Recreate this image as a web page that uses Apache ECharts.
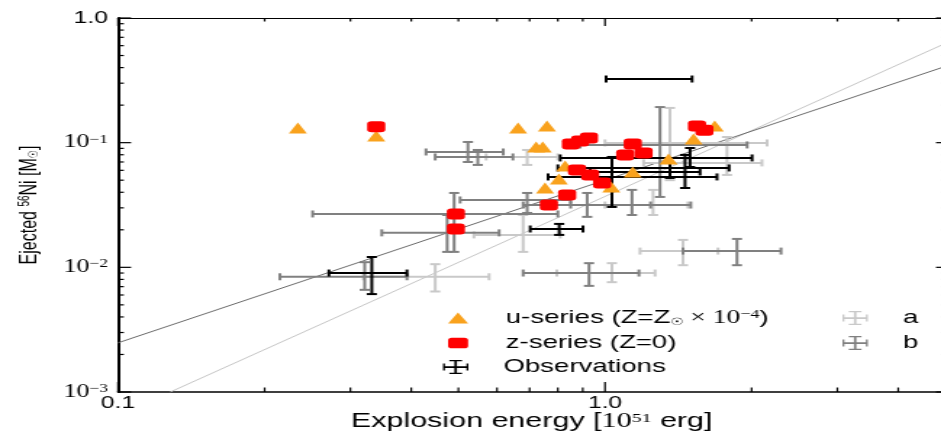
<!DOCTYPE html>
<html><head><meta charset="utf-8">
<script src="https://cdn.jsdelivr.net/npm/echarts@6/dist/echarts.min.js"></script>
<style>
html,body{margin:0;padding:0;background:#fff;overflow:hidden;width:941px;height:436px;}
#chart{width:652px;height:436px;transform:scaleX(1.45);transform-origin:0 0;}
</style></head><body><div id="chart"></div>
<script>
// ---- data (x = explosion energy [1e51 erg], y = ejected 56Ni [Msun]) ----
const uSeries = [[0.234,0.131],[0.339,0.113],[0.663,0.131],[0.760,0.136],[0.722,0.0924],[0.745,0.0924],[0.753,0.0433],[0.804,0.0512],[0.828,0.065],[1.03,0.044],[1.14,0.0582],[1.35,0.074],[1.52,0.107],[1.68,0.136]];
const zSeries = [[0.339,0.134],[0.494,0.0268],[0.494,0.0203],[0.851,0.0977],[0.889,0.103],[0.927,0.109],[1.14,0.0977],[1.10,0.0797],[1.20,0.0827],[0.876,0.0604],[0.932,0.0551],[0.986,0.0475],[0.836,0.0381],[0.767,0.0316],[1.545,0.136],[1.60,0.126]];
// [x, y, xLow, xHigh, yLow, yHigh]
const observations = [[0.332,0.0090,0.271,0.392,0.0061,0.0121],[0.805,0.0203,0.702,0.901,0.0182,0.0223],[1.255,0.324,1.005,1.509,0.324,0.324],[1.46,0.0627,0.800,1.798,0.0433,0.0797],[1.033,0.0531,0.764,1.698,0.0305,0.0768],[1.495,0.0754,0.809,2.004,0.0638,0.0906],[1.359,0.0582,0.932,1.567,0.0521,0.0688]];
const seriesA = [[0.448,0.0084,0.319,0.578,0.0064,0.0106],[1.033,0.0090,0.796,1.267,0.0076,0.0108],[1.446,0.0135,1.180,1.706,0.0104,0.0166],[0.679,0.0182,0.538,0.809,0.0133,0.0263],[1.359,0.0995,1.0,2.151,0.05,0.190],[1.78,0.0688,1.2,2.10,0.0551,0.111],[0.692,0.0768,0.57,0.80,0.0663,0.0874],[1.255,0.0316,1.0,1.48,0.0263,0.0418]];
const seriesB = [[0.523,0.0842,0.429,0.618,0.0700,0.1013],[0.548,0.0768,0.448,0.647,0.0663,0.0874],[0.490,0.0268,0.251,0.800,0.0133,0.0395],[0.474,0.0189,0.348,0.606,0.0133,0.0263],[0.321,0.0084,0.215,0.392,0.0066,0.0110],[0.927,0.0090,0.679,1.174,0.0071,0.0108],[1.866,0.0135,1.446,2.298,0.0104,0.0169],[1.297,0.0959,0.889,1.958,0.0367,0.193],[0.692,0.0347,0.504,0.850,0.0273,0.0395],[0.919,0.0316,0.679,1.24,0.0254,0.0395],[1.136,0.0316,0.85,1.5,0.0263,0.0418]];
const fitB = [[0.1,0.00248],[5,0.409]];
const fitA = [[0.128,0.001],[5,0.626]];
const xMajorTicks = [0.1, 1];
const xMinorTicks = [0.2,0.3,0.4,0.5,0.6,0.7,0.8,0.9,2,3,4];
const yMajorTicks = [0.001, 0.01, 0.1, 1];
const yMinorTicks = [0.002,0.003,0.004,0.005,0.006,0.007,0.008,0.009,0.02,0.03,0.04,0.05,0.06,0.07,0.08,0.09,0.2,0.3,0.4,0.5,0.6,0.7,0.8,0.9];
const xTickLabels = ['0.1', '1.0'];
const yTickLabels = [['10','−3'],['10','−2'],['10','−1'],['1.0','']];

const SANS = 'Liberation Sans', SERIF = 'Liberation Serif';
const ORANGE = '#F9A21D', RED = '#FF0000', GRAY_A = '#c9c9c9', GRAY_B = '#808080';

function matchIdx(v, arr){
  for (let i=0;i<arr.length;i++){ if (Math.abs(Math.log10(v)-Math.log10(arr[i]))<1e-6) return i; }
  return -1;
}

function errRender(color, lw, capX, capY){
  return function(params, api){
    const x=api.value(0), y=api.value(1);
    const c=api.coord([x,y]);
    const l=api.coord([api.value(2),y]), r=api.coord([api.value(3),y]);
    const b=api.coord([x,api.value(4)]), t=api.coord([x,api.value(5)]);
    const seg=(x1,y1,x2,y2)=>({type:'line',shape:{x1,y1,x2,y2},style:{stroke:color,lineWidth:lw,fill:null}});
    return {type:'group',children:[
      seg(l[0],c[1],r[0],c[1]),
      seg(c[0],b[1],c[0],t[1]),
      seg(l[0],c[1]-capY/2,l[0],c[1]+capY/2),
      seg(r[0],c[1]-capY/2,r[0],c[1]+capY/2),
      seg(c[0]-capX/2,t[1],c[0]+capX/2,t[1]),
      seg(c[0]-capX/2,b[1],c[0]+capX/2,b[1])
    ]};
  };
}

function tickSeries(values, axis, lenA, lenB){
  return {type:'custom', silent:true, clip:false, z:20, data: values.map(v=>[v]),
    renderItem(params, api){
      const cs=params.coordSys, v=api.value(0);
      const st={stroke:'#000',lineWidth:1.2};
      if (axis==='x'){
        const px=api.coord([v,0.01])[0];
        const yb=cs.y+cs.height, yt=cs.y;
        return {type:'group',children:[
          {type:'line',shape:{x1:px,y1:yb,x2:px,y2:yb-lenA},style:st},
          {type:'line',shape:{x1:px,y1:yt,x2:px,y2:yt+lenB},style:st}]};
      } else {
        const py=api.coord([1,v])[1];
        const xl=cs.x, xr=cs.x+cs.width;
        return {type:'group',children:[
          {type:'line',shape:{x1:xl,y1:py,x2:xl+lenA,y2:py},style:st},
          {type:'line',shape:{x1:xr,y1:py,x2:xr-lenB,y2:py},style:st}]};
      }
    }};
}

const ERR_ICON = 'path://M0,7h20v2h-20z M9,0h2v16h-2z M0,4h1.5v8h-1.5z M18.5,4h1.5v8h-1.5z M5,0h10v1.5h-10z M5,14.5h10v1.5h-10z';
const legendRich = {
  sp:{width:21}, sp2:{width:18},
  s:{fontFamily:SANS,fontSize:19,color:'#000'},
  d:{fontFamily:'DejaVu Sans',fontSize:10,color:'#000',verticalAlign:'bottom',lineHeight:19},
  m:{fontFamily:SERIF,fontSize:19,color:'#000'},
  p:{fontFamily:SERIF,fontSize:12.5,color:'#000',verticalAlign:'top',lineHeight:19}
};
function legendFor(name, icon, color, w, h, left, top, fmt){
  return {show:true, selectedMode:false, orient:'vertical', left, top, padding:0,
    itemWidth:w, itemHeight:h, itemGap:0,
    data:[{name, icon, itemStyle:{color, borderWidth:0}}],
    formatter: fmt,
    textStyle:{fontFamily:SANS,fontSize:19,color:'#000',rich:legendRich}};
}

const chart = echarts.init(document.getElementById('chart'), null, {renderer:'canvas'});
const option = {
  animation:false,
  backgroundColor:'#fff',
  grid:{left:81.4, right:0, top:18, bottom:44, containLabel:false, outerBoundsMode:'none'},
  xAxis:[{
    type:'log', logBase:10, min:0.1, max:5, position:'bottom',
    axisLine:{show:true,onZero:false,lineStyle:{color:'#000',width:1.5}},
    axisTick:{show:false}, splitLine:{show:false}, minorTick:{show:false},
    axisLabel:{margin:3, formatter:(v)=>{const i=matchIdx(v,xMajorTicks); return i<0?'':'{n|'+xTickLabels[i]+'}';},
      rich:{n:{fontFamily:SANS,fontSize:17,color:'#000'}}},
    name:'{s|Explosion energy [}{m|10}{p|51}{s| erg]}', nameLocation:'middle', nameGap:19, nameMoveOverlap:false,
    nameTextStyle:{rich:{
      s:{fontFamily:SANS,fontSize:21,color:'#000'},
      m:{fontFamily:SERIF,fontSize:21,color:'#000'},
      p:{fontFamily:SERIF,fontSize:13.5,color:'#000',verticalAlign:'top',lineHeight:21}}}
  },{
    type:'log', logBase:10, min:0.1, max:5, position:'top',
    axisLine:{show:true,onZero:false,lineStyle:{color:'#000',width:1.2}},
    axisTick:{show:false}, axisLabel:{show:false}, splitLine:{show:false}
  }],
  yAxis:[{
    type:'log', logBase:10, min:0.001, max:1, position:'left',
    axisLine:{show:true,onZero:false,lineStyle:{color:'#000',width:2}},
    axisTick:{show:false}, splitLine:{show:false}, minorTick:{show:false},
    axisLabel:{margin:7, formatter:(v)=>{const i=matchIdx(v,yMajorTicks); if(i<0) return ''; const t=yTickLabels[i]; return t[1]?('{b|'+t[0]+'}{s|'+t[1]+'}'):('{n|'+t[0]+'}');},
      rich:{n:{fontFamily:SANS,fontSize:17,color:'#000'},
            b:{fontFamily:SERIF,fontSize:18,color:'#000'},
            s:{fontFamily:SERIF,fontSize:12,color:'#000',verticalAlign:'top',lineHeight:18}}},
    name:'{s|Ejected }{p|56}{s|Ni [M}{d|☉}{s|]}', nameLocation:'middle', nameGap:53, nameRotate:90, nameMoveOverlap:false,
    nameTextStyle:{rich:{
      s:{fontFamily:SANS,fontSize:16,color:'#000'},
      p:{fontFamily:SANS,fontSize:10,color:'#000',verticalAlign:'top',lineHeight:16},
      d:{fontFamily:'DejaVu Sans',fontSize:9,color:'#000',verticalAlign:'bottom',lineHeight:16}}}
  },{
    type:'log', logBase:10, min:0.001, max:1, position:'right',
    axisLine:{show:true,onZero:false,lineStyle:{color:'#000',width:1.5}},
    axisTick:{show:false}, axisLabel:{show:false}, splitLine:{show:false}
  }],
  legend:[
    legendFor('u-series','triangle',ORANGE,13.8,11,309,308.5,'{sp| }{s|u-series (Z=Z}{d|☉}{m| × 10}{p|−4}{s|)}'),
    legendFor('z-series','roundRect',RED,13.8,10.5,309,333.5,'{sp| }{s|z-series (Z=0)}'),
    legendFor('Observations',ERR_ICON,'#000',20,14,305.5,357.5,'{sp2| }{s|Observations}'),
    legendFor('a',ERR_ICON,GRAY_A,20,14,581,308.5,'{sp2| }{s|a}'),
    legendFor('b',ERR_ICON,GRAY_B,20,14,581,333.5,'{sp2| }{s|b}')
  ],
  series:[
    {type:'line', name:'fit a', data:fitA, symbol:'none', lineStyle:{color:'#c6c6c6',width:1}, z:1, silent:true, clip:true},
    {type:'line', name:'fit b', data:fitB, symbol:'none', lineStyle:{color:'#6c6c6c',width:1}, z:1, silent:true, clip:true},
    {type:'custom', name:'a', data:seriesA, renderItem:errRender(GRAY_A,2,7,7), itemStyle:{color:GRAY_A}, z:2, clip:false},
    {type:'custom', name:'b', data:seriesB, renderItem:errRender(GRAY_B,2,7,7), itemStyle:{color:GRAY_B}, z:3, clip:false},
    {type:'custom', name:'Observations', data:observations, renderItem:errRender('#000',2,7,7), itemStyle:{color:'#000'}, z:4, clip:false},
    {type:'scatter', name:'u-series', data:uSeries, symbol:'triangle', symbolSize:[12.5,11], itemStyle:{color:ORANGE,opacity:1}, z:5},
    {type:'scatter', name:'z-series', data:zSeries, symbol:'roundRect', symbolSize:[12.5,11], itemStyle:{color:RED,opacity:1}, z:6},
    tickSeries(xMajorTicks,'x',10,8),
    tickSeries(xMinorTicks,'x',4.5,3.5),
    tickSeries(yMajorTicks,'y',9,6.5),
    tickSeries(yMinorTicks,'y',4,2.2)
  ]
};
chart.setOption(option);
</script></body></html>
